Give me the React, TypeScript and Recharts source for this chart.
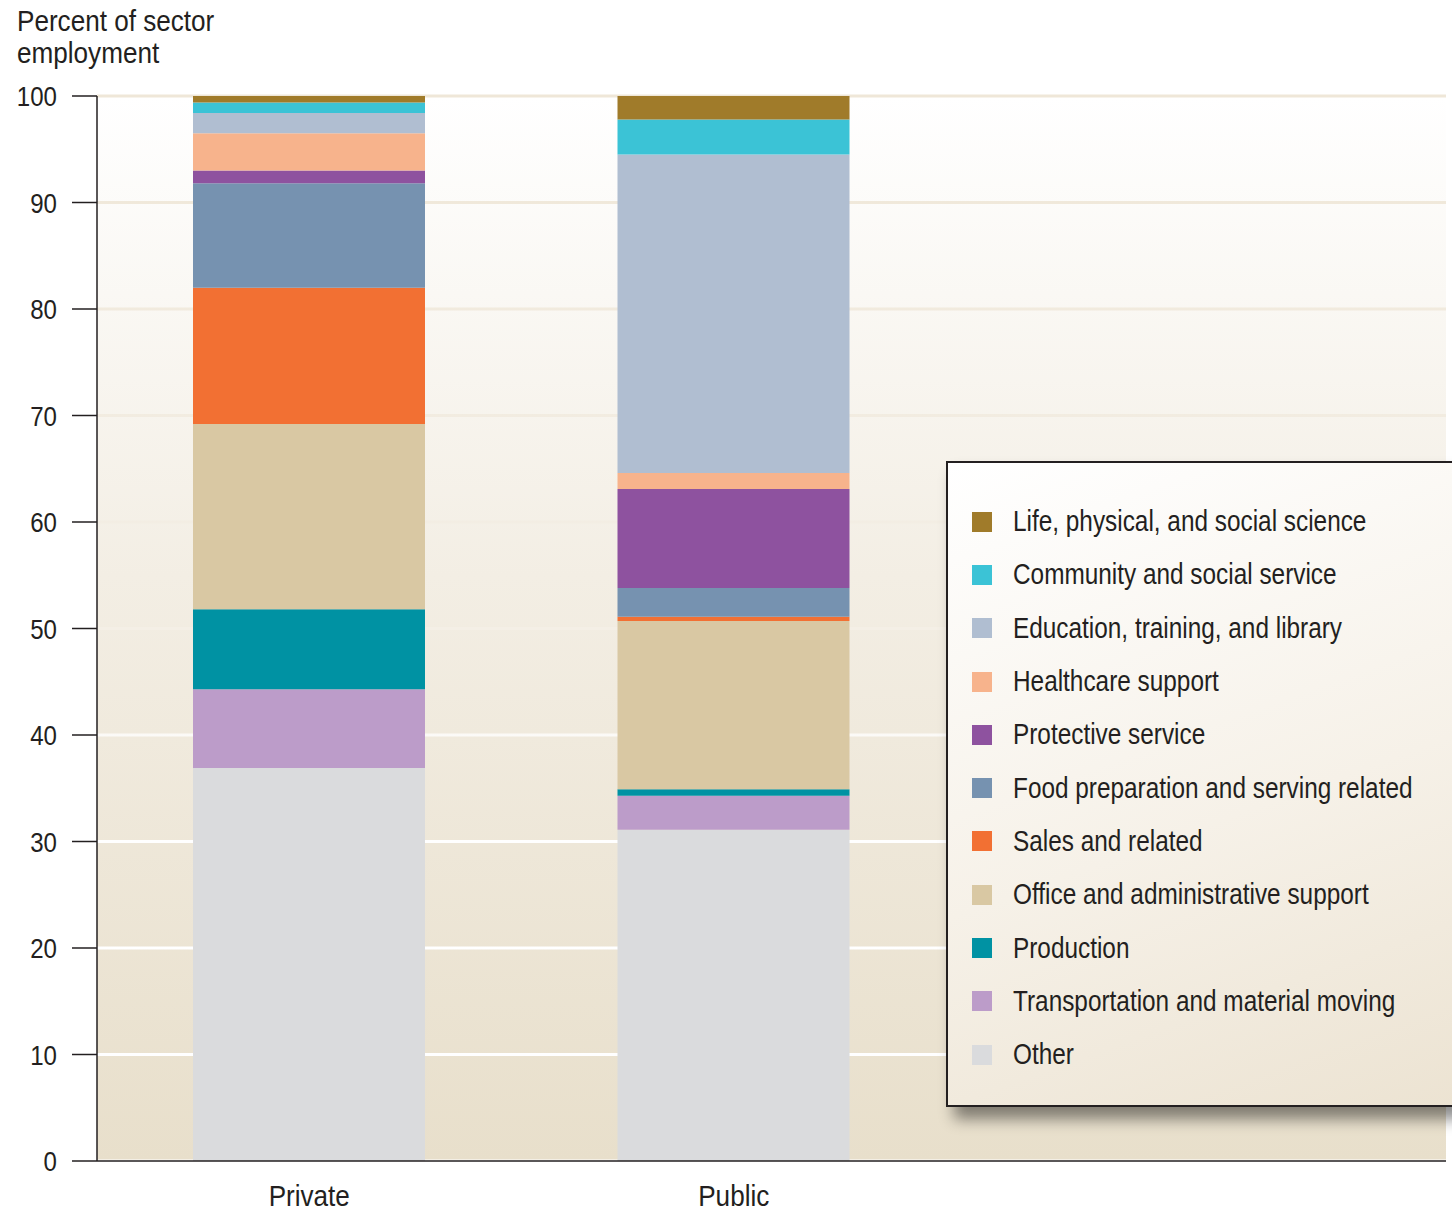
import React from 'react';
import { BarChart, Bar, XAxis, YAxis, CartesianGrid } from 'recharts';

const FONT = "'Liberation Sans', Arial, sans-serif";
const INK = '#231f20';

const categories = ['Private', 'Public'];

// stacked bottom to top
const other = [36.9, 31.1];
const transportation = [7.4, 3.2];
const production = [7.5, 0.6];
const office = [17.4, 15.8];
const sales = [12.8, 0.4];
const foodPrep = [9.8, 2.7];
const protective = [1.2, 9.3];
const healthcare = [3.5, 1.5];
const education = [1.9, 29.9];
const community = [1.0, 3.3];
const science = [0.6, 2.2];

const yTicks = [0, 10, 20, 30, 40, 50, 60, 70, 80, 90, 100];

const series = [
  { key: 'other', name: 'Other', color: '#dadbdd', values: other },
  { key: 'transportation', name: 'Transportation and material moving', color: '#bc9cc9', values: transportation },
  { key: 'production', name: 'Production', color: '#0092a3', values: production },
  { key: 'office', name: 'Office and administrative support', color: '#d9c8a3', values: office },
  { key: 'sales', name: 'Sales and related', color: '#f27033', values: sales },
  { key: 'foodPrep', name: 'Food preparation and serving related', color: '#7692b0', values: foodPrep },
  { key: 'protective', name: 'Protective service', color: '#8e529f', values: protective },
  { key: 'healthcare', name: 'Healthcare support', color: '#f7b38c', values: healthcare },
  { key: 'education', name: 'Education, training, and library', color: '#b0bed1', values: education },
  { key: 'community', name: 'Community and social service', color: '#3bc3d6', values: community },
  { key: 'science', name: 'Life, physical, and social science', color: '#a07b2a', values: science },
];

const chartData = categories.map((name, i) => {
  const row: Record<string, string | number> = { name };
  series.forEach(s => { row[s.key] = s.values[i]; });
  return row;
});

// condensed look: squeeze the sans horizontally
const YTick = (props: any) => {
  const { x, y, payload } = props;
  return (
    <g transform={`translate(${x},${y}) scale(0.86,1)`}>
      <text x={0} y={0} dy="0.36em" textAnchor="end" fontFamily={FONT} fontSize={28} fill={INK}>
        {payload.value}
      </text>
    </g>
  );
};

const XTick = (props: any) => {
  const { x, y, payload } = props;
  return (
    <g transform={`translate(${x},${y + 45}) scale(0.87,1)`}>
      <text x={0} y={0} textAnchor="middle" fontFamily={FONT} fontSize={30} fill={INK}>
        {payload.value}
      </text>
    </g>
  );
};

const LegendBox = () => (
  <div
    style={{
      position: 'absolute',
      left: 946,
      top: 461,
      width: 520,
      height: 646,
      boxSizing: 'border-box',
      border: `2px solid ${INK}`,
      background: 'linear-gradient(160deg, #ffffff 0%, #f6f1e8 55%, #ece3d2 100%)',
      boxShadow: '8px 12px 14px rgba(0,0,0,0.45)',
      paddingTop: 32,
    }}
  >
    {[...series].reverse().map(s => (
      <div key={s.key} style={{ display: 'flex', alignItems: 'center', height: 53.3, paddingLeft: 24 }}>
        <span style={{ width: 20, height: 20, background: s.color, marginRight: 21, flexShrink: 0 }} />
        <span
          style={{
            display: 'inline-block',
            fontFamily: FONT,
            fontSize: 29,
            color: INK,
            whiteSpace: 'nowrap',
            transform: 'scaleX(0.84)',
            transformOrigin: 'left center',
          }}
        >
          {s.name}
        </span>
      </div>
    ))}
  </div>
);

export default function App() {
  return (
    <div style={{ position: 'absolute', left: 0, top: 0, width: 1452, height: 1211, background: '#fff', overflow: 'hidden' }}>
      <div
        style={{
          position: 'absolute',
          left: 17,
          top: 5,
          fontFamily: FONT,
          fontSize: 29,
          lineHeight: '32px',
          color: INK,
          transform: 'scaleX(0.9)',
          transformOrigin: 'left top',
          whiteSpace: 'nowrap',
        }}
      >
        Percent of sector<br />employment
      </div>
      <BarChart
        width={1452}
        height={1211}
        data={chartData}
        margin={{ top: 96, right: 6, bottom: 0, left: 0 }}
        barCategoryGap={0}
      >
        <defs>
          <linearGradient id="plotBg" x1="0" y1="0" x2="0" y2="1">
            <stop offset="0%" stopColor="#ffffff" />
            <stop offset="45%" stopColor="#f3eee4" />
            <stop offset="100%" stopColor="#e8dfcb" />
          </linearGradient>
          <linearGradient id="gridStroke" gradientUnits="userSpaceOnUse" x1="0" y1="96" x2="0" y2="1161">
            <stop offset="0%" stopColor="#efe7d8" />
            <stop offset="50%" stopColor="#f4efe6" />
            <stop offset="65%" stopColor="#ffffff" />
            <stop offset="100%" stopColor="#ffffff" />
          </linearGradient>
        </defs>
        <CartesianGrid
          vertical={false}
          fill="url(#plotBg)"
          fillOpacity={1}
          stroke="url(#gridStroke)"
          strokeWidth={3}
        />
        <XAxis
          dataKey="name"
          height={50}
          padding={{ left: 0, right: 500 }}
          tickLine={false}
          tickSize={0}
          tickMargin={0}
          axisLine={{ stroke: INK, strokeWidth: 1.5 }}
          tick={<XTick />}
        />
        <YAxis
          width={97}
          domain={[0, 100]}
          ticks={yTicks}
          interval={0}
          tickSize={25}
          tickMargin={15}
          axisLine={{ stroke: INK, strokeWidth: 1.5 }}
          tickLine={{ stroke: INK, strokeWidth: 1.5 }}
          tick={<YTick />}
        />
        {series.map(s => (
          <Bar
            key={s.key}
            dataKey={s.key}
            name={s.name}
            stackId="a"
            fill={s.color}
            barSize={232}
            isAnimationActive={false}
          />
        ))}
      </BarChart>
      <LegendBox />
    </div>
  );
}
